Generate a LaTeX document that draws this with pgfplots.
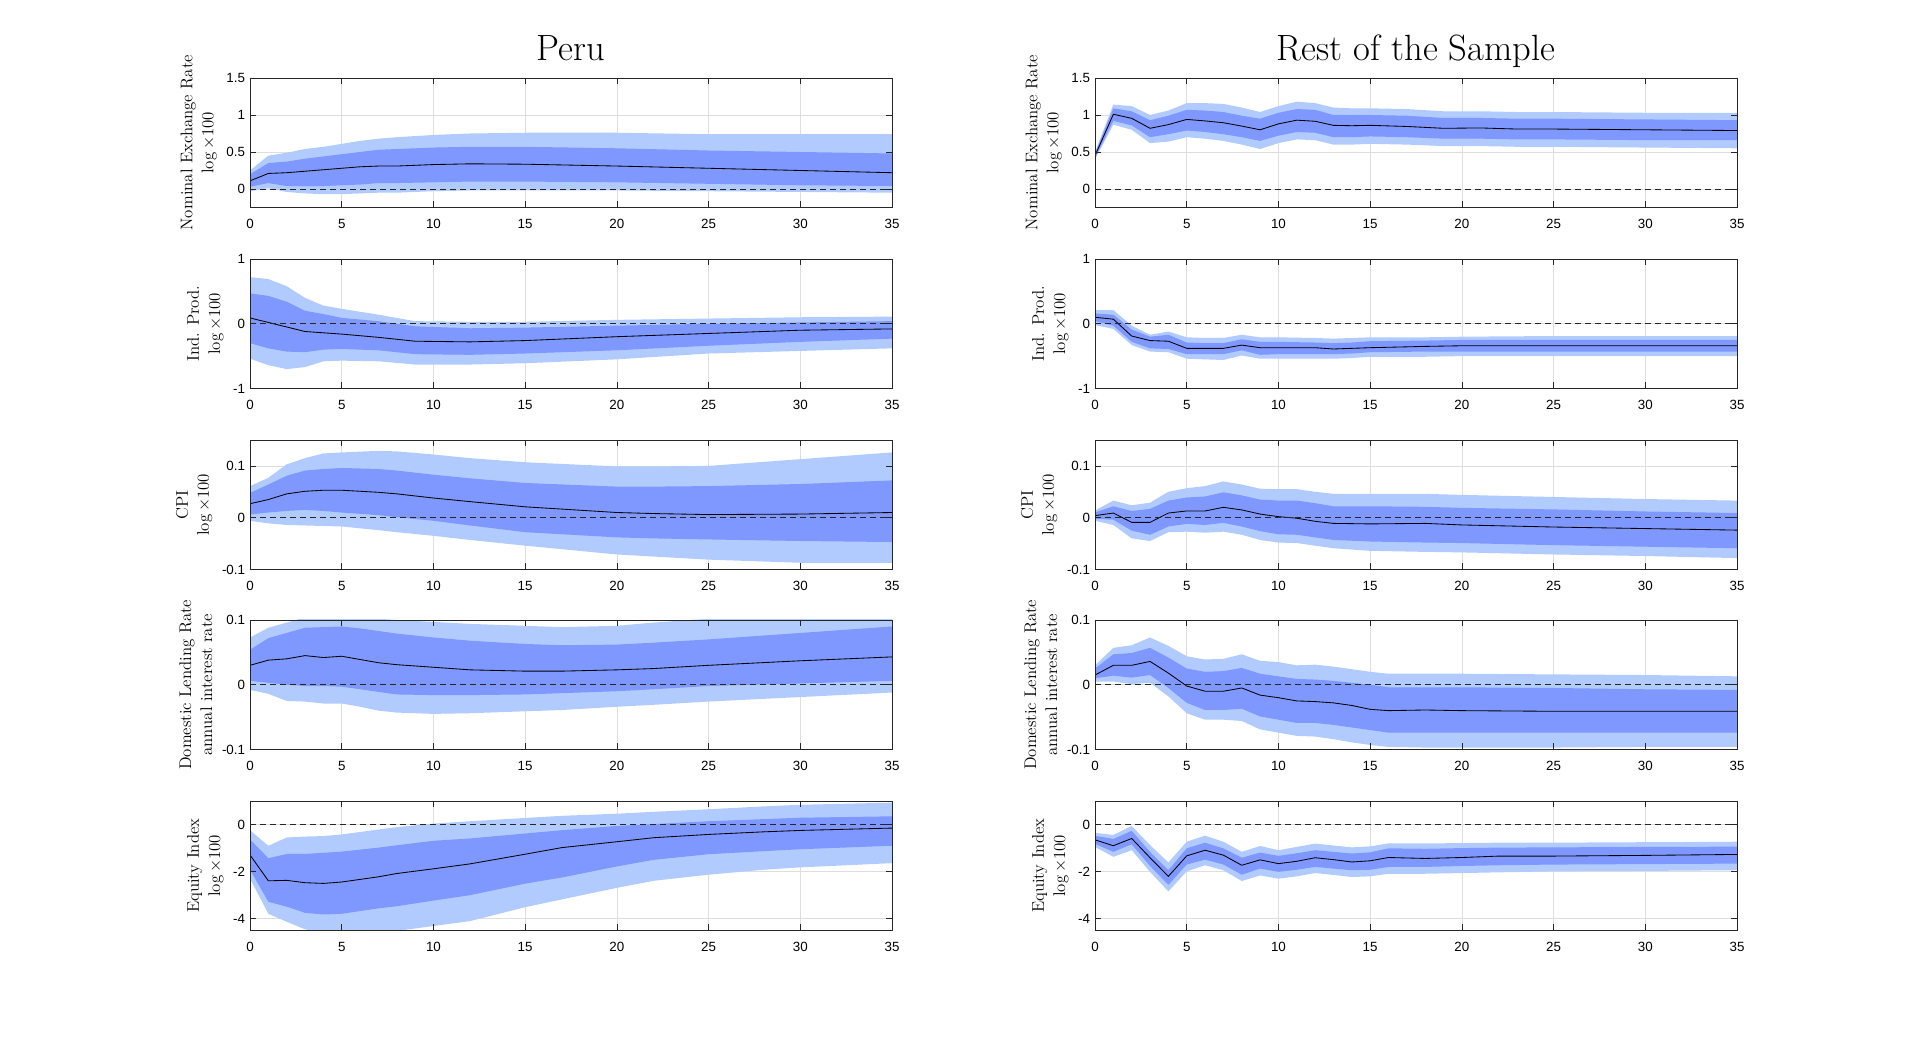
\documentclass[border=0pt]{standalone}
\usepackage{fontspec}
\usepackage{pgfplots}
\usepackage{pgfplotstable}
\pgfplotsset{compat=1.18}
\usepgfplotslibrary{fillbetween}
\newfontfamily\tickfam{Liberation Sans}
\newcommand\tickfont{\tickfam\fontsize{9.5}{11}\selectfont}
\newcommand\labfont{\fontsize{12}{15}\selectfont}
\definecolor{lightb}{RGB}{178,203,255}
\definecolor{darkb}{RGB}{127,152,255}
\definecolor{axc}{RGB}{38,38,38}
\definecolor{gridc}{RGB}{222,222,222}

\pgfplotsset{
  myax/.style={
    axis on top,
    scale only axis, width=160.5mm, height=32.375mm,
    anchor=south west,
    xmin=0, xmax=35,
    xtick={0,5,10,15,20,25,30,35},
    xticklabels={0,5,10,15,20,25,30,35},
    tick align=inside, major tick length=1.6mm,
    tick style={color=axc, line width=0.5pt},
    axis line style={color=axc, line width=0.6pt},
    ticklabel style={font=\tickfont},
    /pgf/number format/assume math mode=true,
    xticklabel style={yshift=-1.6mm},
    ylabel style={font=\labfont, align=center},
  },
  gridst/.style={color=gridc, line width=0.5pt, forget plot, /pgfplots/on layer=pre main},
  r1/.style={ymin=-0.25, ymax=1.5, ytick={0,0.5,1,1.5}, yticklabels={0,0.5,1,1.5}},
  r2/.style={ymin=-1, ymax=1, ytick={-1,0,1}, yticklabels={-1,0,1}},
  r3/.style={ymin=-0.1, ymax=0.15, ytick={-0.1,0,0.1}, yticklabels={-0.1,0,0.1}},
  r4/.style={ymin=-0.1, ymax=0.1, ytick={-0.1,0,0.1}, yticklabels={-0.1,0,0.1}},
  r5/.style={ymin=-4.5, ymax=1, ytick={-4,-2,0}, yticklabels={-4,-2,0}},
}

% vertical grid lines, from #1 to #2 (the axis's y limits)
\newcommand{\vg}[2]{%
  \addplot[gridst] coordinates {(5,#1) (5,#2)};
  \addplot[gridst] coordinates {(10,#1) (10,#2)};
  \addplot[gridst] coordinates {(15,#1) (15,#2)};
  \addplot[gridst] coordinates {(20,#1) (20,#2)};
  \addplot[gridst] coordinates {(25,#1) (25,#2)};
  \addplot[gridst] coordinates {(30,#1) (30,#2)};
}
\newcommand{\hg}[1]{\addplot[gridst] coordinates {(0,#1) (35,#1)};}

\newcommand{\bands}[1]{%
  \addplot[name path=LU, draw=none] table[x=x,y=lu]{#1};
  \addplot[name path=LL, draw=none] table[x=x,y=ll]{#1};
  \addplot[fill=lightb, draw=none] fill between[of=LU and LL];
  \addplot[name path=DU, draw=none] table[x=x,y=du]{#1};
  \addplot[name path=DL, draw=none] table[x=x,y=dl]{#1};
  \addplot[fill=darkb, draw=none] fill between[of=DU and DL];
  \addplot[black, line width=0.6pt] table[x=x,y=m]{#1};
  \addplot[black!85, line width=0.6pt, dash pattern=on 1.5mm off 1mm] coordinates {(0,0) (35,0)};
}

% Peru
\pgfplotstableread{
x ll dl m du lu
0 -0.03 0.03 0.11 0.20 0.25
1 0.01 0.08 0.21 0.35 0.45
2 -0.04 0.04 0.22 0.37 0.49
3 -0.06 0.04 0.24 0.41 0.54
4 -0.07 0.04 0.26 0.44 0.57
5 -0.07 0.05 0.28 0.47 0.61
6 -0.06 0.06 0.30 0.50 0.65
7 -0.05 0.08 0.31 0.53 0.68
8 -0.05 0.08 0.31 0.54 0.70
10 -0.03 0.09 0.33 0.56 0.73
12 -0.02 0.10 0.34 0.57 0.75
15 -0.02 0.10 0.335 0.57 0.76
20 -0.02 0.09 0.31 0.55 0.76
25 -0.03 0.07 0.28 0.52 0.74
30 -0.04 0.05 0.25 0.50 0.74
35 -0.05 0.04 0.22 0.48 0.74
}\pA
\pgfplotstableread{
x ll dl m du lu
0 -0.54 -0.30 0.09 0.47 0.72
1 -0.64 -0.38 0.02 0.43 0.69
2 -0.70 -0.43 -0.05 0.34 0.58
3 -0.67 -0.44 -0.12 0.20 0.40
4 -0.58 -0.40 -0.14 0.15 0.28
5 -0.57 -0.39 -0.16 0.09 0.23
7 -0.58 -0.41 -0.21 0.04 0.14
9 -0.63 -0.47 -0.27 -0.04 0.04
12 -0.63 -0.48 -0.28 -0.07 0.03
15 -0.61 -0.46 -0.26 -0.06 0.03
20 -0.55 -0.41 -0.20 -0.03 0.06
25 -0.46 -0.34 -0.15 0.00 0.08
30 -0.42 -0.28 -0.10 0.02 0.10
35 -0.38 -0.23 -0.08 0.04 0.11
}\pB
\pgfplotstableread{
x ll dl m du lu
0 -0.006 0.006 0.027 0.048 0.061
1 -0.011 0.010 0.035 0.064 0.077
2 -0.014 0.013 0.046 0.081 0.103
3 -0.015 0.015 0.051 0.091 0.115
4 -0.016 0.013 0.053 0.094 0.124
5 -0.017 0.010 0.053 0.096 0.126
7 -0.024 0.005 0.049 0.094 0.129
8 -0.028 0.001 0.046 0.091 0.128
10 -0.035 -0.006 0.038 0.083 0.122
12 -0.043 -0.015 0.031 0.076 0.115
15 -0.054 -0.028 0.021 0.067 0.107
20 -0.071 -0.038 0.010 0.060 0.099
22 -0.075 -0.040 0.008 0.060 0.099
25 -0.081 -0.042 0.006 0.061 0.100
30 -0.087 -0.045 0.007 0.065 0.113
35 -0.087 -0.047 0.010 0.072 0.126
}\pC
\pgfplotstableread{
x ll dl m du lu
0 -0.008 0.006 0.030 0.054 0.073
1 -0.014 0.003 0.038 0.072 0.088
2 -0.025 0.000 0.040 0.080 0.096
3 -0.026 -0.002 0.045 0.088 0.104
4 -0.029 -0.002 0.042 0.089 0.106
5 -0.029 -0.003 0.044 0.090 0.106
6 -0.034 -0.007 0.039 0.087 0.104
7 -0.040 -0.011 0.034 0.083 0.102
8 -0.043 -0.015 0.031 0.079 0.100
10 -0.045 -0.016 0.027 0.073 0.097
12 -0.044 -0.016 0.023 0.068 0.094
15 -0.041 -0.015 0.021 0.063 0.091
17 -0.039 -0.013 0.021 0.061 0.089
20 -0.034 -0.010 0.023 0.062 0.091
22 -0.031 -0.007 0.025 0.065 0.096
25 -0.026 -0.002 0.030 0.070 0.102
30 -0.019 0.002 0.037 0.080 0.105
35 -0.012 0.006 0.043 0.090 0.110
}\pD
\pgfplotstableread{
x ll dl m du lu
0 -2.30 -1.92 -1.29 -0.63 -0.24
1 -3.79 -3.28 -2.39 -1.43 -0.90
2 -4.13 -3.49 -2.37 -1.25 -0.55
3 -4.45 -3.75 -2.47 -1.25 -0.51
4 -4.60 -3.82 -2.50 -1.20 -0.49
5 -4.70 -3.79 -2.44 -1.15 -0.42
7 -4.60 -3.56 -2.22 -0.98 -0.21
8 -4.52 -3.47 -2.08 -0.88 -0.11
10 -4.31 -3.23 -1.88 -0.69 0.04
12 -4.10 -3.00 -1.67 -0.59 0.14
15 -3.51 -2.51 -1.26 -0.38 0.28
17 -3.18 -2.25 -0.98 -0.24 0.37
20 -2.69 -1.78 -0.73 -0.06 0.46
22 -2.39 -1.50 -0.56 0.02 0.54
25 -2.13 -1.26 -0.42 0.14 0.65
28 -1.92 -1.13 -0.31 0.23 0.77
30 -1.82 -1.05 -0.25 0.29 0.84
35 -1.64 -0.90 -0.15 0.35 0.93
}\pE
% Rest of the sample
\pgfplotstableread{
x ll dl m du lu
0 0.40 0.42 0.45 0.48 0.50
1 0.87 0.92 1.01 1.09 1.14
2 0.80 0.86 0.955 1.05 1.12
3 0.62 0.70 0.82 0.93 1.00
4 0.64 0.74 0.87 0.99 1.06
5 0.70 0.79 0.94 1.07 1.16
6 0.68 0.77 0.92 1.06 1.16
7 0.65 0.74 0.895 1.04 1.15
8 0.60 0.70 0.85 0.99 1.10
9 0.54 0.65 0.80 0.95 1.04
10 0.62 0.72 0.88 1.03 1.12
11 0.67 0.77 0.93 1.08 1.18
12 0.66 0.76 0.915 1.07 1.16
13 0.60 0.70 0.86 1.00 1.10
14 0.60 0.70 0.855 1.00 1.09
15 0.61 0.71 0.86 1.00 1.09
17 0.60 0.70 0.845 0.99 1.08
19 0.58 0.68 0.82 0.96 1.05
21 0.58 0.68 0.825 0.96 1.05
23 0.57 0.67 0.81 0.95 1.04
25 0.57 0.67 0.81 0.95 1.04
30 0.56 0.66 0.80 0.94 1.03
35 0.55 0.66 0.79 0.93 1.03
}\rA
\pgfplotstableread{
x ll dl m du lu
0 -0.02 0.04 0.10 0.16 0.21
1 -0.08 -0.03 0.07 0.14 0.21
2 -0.33 -0.28 -0.19 -0.09 -0.03
3 -0.43 -0.38 -0.26 -0.20 -0.17
4 -0.44 -0.39 -0.27 -0.17 -0.12
5 -0.54 -0.47 -0.38 -0.29 -0.21
6 -0.55 -0.47 -0.38 -0.30 -0.22
7 -0.56 -0.47 -0.38 -0.30 -0.22
8 -0.49 -0.41 -0.33 -0.24 -0.17
9 -0.54 -0.48 -0.37 -0.28 -0.21
10 -0.54 -0.47 -0.37 -0.28 -0.21
12 -0.54 -0.47 -0.37 -0.29 -0.22
13 -0.54 -0.47 -0.39 -0.30 -0.23
14 -0.53 -0.46 -0.38 -0.29 -0.22
15 -0.51 -0.44 -0.37 -0.27 -0.21
18 -0.51 -0.43 -0.35 -0.26 -0.21
20 -0.50 -0.43 -0.34 -0.25 -0.20
25 -0.50 -0.43 -0.34 -0.25 -0.19
35 -0.50 -0.43 -0.34 -0.25 -0.19
}\rB
\pgfplotstableread{
x ll dl m du lu
0 -0.006 -0.002 0.004 0.010 0.014
1 -0.014 -0.004 0.009 0.022 0.033
2 -0.040 -0.025 -0.009 0.013 0.024
3 -0.045 -0.033 -0.009 0.017 0.029
4 -0.028 -0.017 0.009 0.033 0.050
5 -0.027 -0.012 0.013 0.039 0.057
6 -0.029 -0.014 0.013 0.041 0.061
7 -0.027 -0.010 0.020 0.049 0.070
8 -0.033 -0.017 0.015 0.043 0.064
9 -0.043 -0.026 0.007 0.035 0.056
10 -0.048 -0.032 0.002 0.033 0.055
11 -0.049 -0.033 -0.001 0.033 0.055
12 -0.054 -0.038 -0.007 0.028 0.050
13 -0.059 -0.043 -0.011 0.022 0.046
15 -0.064 -0.046 -0.012 0.022 0.046
18 -0.066 -0.048 -0.011 0.021 0.046
20 -0.067 -0.049 -0.014 0.019 0.044
25 -0.071 -0.053 -0.018 0.016 0.040
30 -0.074 -0.056 -0.021 0.012 0.036
35 -0.078 -0.059 -0.024 0.009 0.033
}\rC
\pgfplotstableread{
x ll dl m du lu
0 0.005 0.010 0.015 0.025 0.030
1 0.005 0.014 0.030 0.047 0.057
2 0.001 0.011 0.030 0.049 0.061
3 0.003 0.015 0.036 0.057 0.073
4 -0.018 -0.005 0.018 0.042 0.060
5 -0.044 -0.028 -0.002 0.025 0.044
6 -0.054 -0.039 -0.010 0.020 0.039
7 -0.054 -0.039 -0.010 0.021 0.040
8 -0.056 -0.037 -0.005 0.026 0.047
9 -0.069 -0.049 -0.016 0.017 0.037
10 -0.074 -0.054 -0.020 0.013 0.035
11 -0.079 -0.059 -0.025 0.009 0.030
12 -0.080 -0.059 -0.026 0.008 0.031
13 -0.084 -0.062 -0.028 0.006 0.028
14 -0.089 -0.066 -0.032 0.003 0.024
15 -0.093 -0.070 -0.038 0.000 0.020
16 -0.096 -0.074 -0.040 -0.004 0.017
18 -0.097 -0.074 -0.039 -0.004 0.017
20 -0.097 -0.074 -0.040 -0.004 0.017
25 -0.097 -0.074 -0.041 -0.005 0.016
30 -0.096 -0.074 -0.041 -0.007 0.015
35 -0.096 -0.074 -0.041 -0.008 0.013
}\rD
\pgfplotstableread{
x ll dl m du lu
0 -0.95 -0.82 -0.65 -0.48 -0.35
1 -1.37 -1.16 -0.90 -0.61 -0.44
2 -1.09 -0.84 -0.59 -0.27 -0.06
3 -2.01 -1.76 -1.41 -1.16 -0.87
4 -2.84 -2.56 -2.20 -1.94 -1.61
5 -1.99 -1.70 -1.33 -1.01 -0.73
6 -1.73 -1.49 -1.09 -0.77 -0.47
7 -1.94 -1.70 -1.30 -1.01 -0.73
8 -2.40 -2.13 -1.73 -1.41 -1.16
9 -2.16 -1.87 -1.50 -1.19 -0.91
10 -2.30 -2.01 -1.66 -1.33 -1.09
11 -2.20 -1.92 -1.56 -1.22 -0.95
12 -2.06 -1.80 -1.41 -1.09 -0.81
13 -2.14 -1.87 -1.49 -1.16 -0.89
14 -2.23 -1.94 -1.59 -1.23 -0.97
15 -2.20 -1.92 -1.54 -1.18 -0.93
16 -2.09 -1.80 -1.40 -1.01 -0.80
18 -2.09 -1.80 -1.44 -1.03 -0.80
20 -2.06 -1.76 -1.40 -1.00 -0.79
22 -2.03 -1.73 -1.34 -0.98 -0.77
25 -1.99 -1.70 -1.34 -0.97 -0.77
30 -1.97 -1.68 -1.31 -0.95 -0.75
35 -1.94 -1.66 -1.27 -0.94 -0.73
}\rE

\begin{document}
\begin{tikzpicture}
\path (0,0) rectangle (480mm,261.5mm);
\node[font=\fontsize{26}{31}\selectfont, anchor=base] at (142.75mm,246.25mm) {Peru};
\node[font=\fontsize{26}{31}\selectfont, anchor=base] at (354mm,246.25mm) {Rest of the Sample};

% Left column
\begin{axis}[myax, r1, at={(62.5mm,209.625mm)}, ylabel={Nominal Exchange Rate\\$\log\times 100$}]
\vg{-0.25}{1.5} \hg{0} \hg{0.5} \hg{1}
\bands{\pA}
\end{axis}
\begin{axis}[myax, r2, at={(62.5mm,164.375mm)}, ylabel={Ind. Prod.\\$\log\times 100$}]
\vg{-1}{1} \hg{0}
\bands{\pB}
\end{axis}
\begin{axis}[myax, r3, at={(62.5mm,119.125mm)}, ylabel={CPI\\$\log\times 100$}]
\vg{-0.1}{0.15} \hg{0} \hg{0.1}
\bands{\pC}
\end{axis}
\begin{axis}[myax, r4, at={(62.5mm,74.125mm)}, ylabel={Domestic Lending Rate\\annual interest rate}]
\vg{-0.1}{0.1} \hg{0}
\bands{\pD}
\end{axis}
\begin{axis}[myax, r5, at={(62.5mm,28.875mm)}, ylabel={Equity Index\\$\log\times 100$}]
\vg{-4.5}{1} \hg{0} \hg{-2} \hg{-4}
\bands{\pE}
\end{axis}

% Right column
\begin{axis}[myax, r1, at={(273.75mm,209.625mm)}, ylabel={Nominal Exchange Rate\\$\log\times 100$}]
\vg{-0.25}{1.5} \hg{0} \hg{0.5} \hg{1}
\bands{\rA}
\end{axis}
\begin{axis}[myax, r2, at={(273.75mm,164.375mm)}, ylabel={Ind. Prod.\\$\log\times 100$}]
\vg{-1}{1} \hg{0}
\bands{\rB}
\end{axis}
\begin{axis}[myax, r3, at={(273.75mm,119.125mm)}, ylabel={CPI\\$\log\times 100$}]
\vg{-0.1}{0.15} \hg{0} \hg{0.1}
\bands{\rC}
\end{axis}
\begin{axis}[myax, r4, at={(273.75mm,74.125mm)}, ylabel={Domestic Lending Rate\\annual interest rate}]
\vg{-0.1}{0.1} \hg{0}
\bands{\rD}
\end{axis}
\begin{axis}[myax, r5, at={(273.75mm,28.875mm)}, ylabel={Equity Index\\$\log\times 100$}]
\vg{-4.5}{1} \hg{0} \hg{-2} \hg{-4}
\bands{\rE}
\end{axis}
\end{tikzpicture}
\end{document}
